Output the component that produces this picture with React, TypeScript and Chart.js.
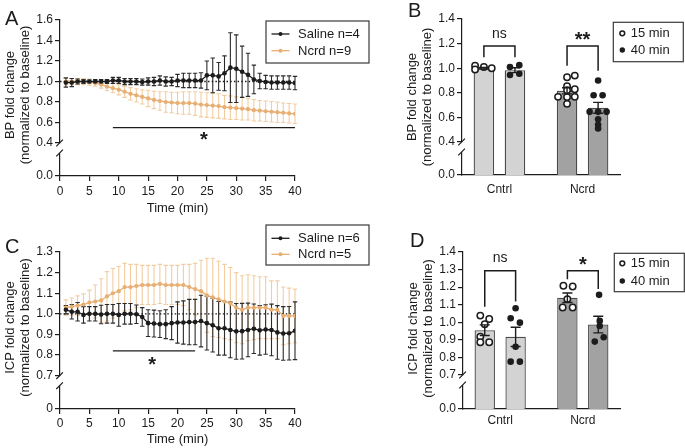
import React, { useEffect, useRef } from 'react';
import { Chart, registerables } from 'chart.js';

Chart.register(...registerables);

const FONT = '"Liberation Sans", Arial, Helvetica, sans-serif';
const INK = '#1c1c1c';
const ORANGE = '#E8AE72';
const ORANGE_ERR = '#F2CDA2';
const BLACK_ERR = '#2b2b2b';
const BAR_LIGHT = '#d3d3d3';
const BAR_DARK = '#a2a2a2';
const BAR_EDGE = '#4a4a4a';

Chart.defaults.font.family = FONT;
Chart.defaults.color = INK;

// ---------------- shared ----------------
const timeMin = [1, 2, 3, 4, 5, 6, 7, 8, 9, 10, 11, 12, 13, 14, 15, 16, 17, 18, 19, 20,
  21, 22, 23, 24, 25, 26, 27, 28, 29, 30, 31, 32, 33, 34, 35, 36, 37, 38, 39, 40];
const timeTicks = [0, 5, 10, 15, 20, 25, 30, 35, 40];
const refSpan = [0, 40];
const refLevel = 1.0;

// ---------------- panel A (BP time course) ----------------
const bpLegend = ['Saline n=4', 'Ncrd n=9'];
const bpSaline = [0.99, 0.99, 1.0, 1.0, 1.0, 1.0, 1.0, 1.0, 1.01, 1.01, 1.0, 1.0, 1.0, 0.995, 1.0, 1.0, 1.01, 1.0, 1.0, 1.01,
  1.01, 1.01, 1.01, 1.01, 1.06, 1.06, 1.05, 1.08, 1.135, 1.125, 1.095, 1.065, 1.02, 1.005, 0.995, 0.99, 0.99, 0.99, 0.99, 0.985];
const bpSalineSem = [0.045, 0.04, 0.025, 0.02, 0.015, 0.02, 0.02, 0.02, 0.03, 0.03, 0.03, 0.03, 0.03, 0.03, 0.035, 0.04, 0.045, 0.045, 0.04, 0.06,
  0.07, 0.07, 0.07, 0.075, 0.14, 0.17, 0.135, 0.17, 0.34, 0.33, 0.25, 0.21, 0.14, 0.075, 0.065, 0.065, 0.065, 0.065, 0.065, 0.065];
const bpNcrd = [1.0, 1.0, 1.0, 1.0, 0.995, 0.985, 0.97, 0.95, 0.935, 0.92, 0.9, 0.88, 0.865, 0.85, 0.835, 0.82, 0.81, 0.8, 0.795, 0.79,
  0.79, 0.79, 0.785, 0.775, 0.77, 0.765, 0.76, 0.75, 0.745, 0.74, 0.735, 0.73, 0.72, 0.715, 0.71, 0.705, 0.7, 0.695, 0.69, 0.685];
const bpNcrdSem = [0.03, 0.03, 0.03, 0.03, 0.03, 0.03, 0.035, 0.04, 0.045, 0.05, 0.055, 0.06, 0.065, 0.07, 0.08, 0.085, 0.09, 0.1, 0.1, 0.105,
  0.11, 0.11, 0.115, 0.12, 0.12, 0.12, 0.12, 0.115, 0.115, 0.11, 0.11, 0.105, 0.105, 0.1, 0.1, 0.1, 0.1, 0.095, 0.095, 0.095];
const bpLineTicks = [0.4, 0.6, 0.8, 1.0, 1.2, 1.4, 1.6];
const bpSigSpan = [9, 40];
const bpSigLevel = 0.55;
const bpStar = [24.5, 0.478];

// ---------------- panel C (ICP time course) ----------------
const icpLegend = ['Saline n=6', 'Ncrd n=5'];
const icpSaline = [1.02, 1.01, 1.01, 0.995, 1.0, 1.0, 0.997, 1.0, 1.0, 0.995, 1.0, 1.0, 0.998, 0.985, 0.955, 0.953, 0.95, 0.95, 0.955, 0.958,
  0.958, 0.96, 0.96, 0.965, 0.955, 0.945, 0.93, 0.93, 0.922, 0.915, 0.916, 0.922, 0.928, 0.92, 0.924, 0.922, 0.91, 0.905, 0.906, 0.918];
const icpSalineSem = [0.02, 0.035, 0.045, 0.04, 0.035, 0.035, 0.045, 0.045, 0.045, 0.055, 0.05, 0.05, 0.045, 0.045, 0.065, 0.065, 0.065, 0.07, 0.08, 0.1,
  0.105, 0.11, 0.11, 0.125, 0.13, 0.13, 0.13, 0.13, 0.135, 0.135, 0.135, 0.13, 0.12, 0.12, 0.12, 0.125, 0.13, 0.13, 0.13, 0.14];
const icpNcrd = [1.03, 1.035, 1.04, 1.045, 1.055, 1.06, 1.065, 1.085, 1.1, 1.11, 1.13, 1.13, 1.135, 1.14, 1.14, 1.14, 1.145, 1.14, 1.14, 1.14,
  1.14, 1.13, 1.12, 1.11, 1.09, 1.08, 1.07, 1.06, 1.05, 1.03, 1.02, 1.03, 1.03, 1.03, 1.03, 1.02, 1.02, 0.99, 0.99, 0.99];
const icpNcrdSem = [0.038, 0.042, 0.047, 0.052, 0.06, 0.08, 0.105, 0.12, 0.12, 0.12, 0.115, 0.11, 0.105, 0.095, 0.095, 0.095, 0.095, 0.095, 0.095, 0.095,
  0.1, 0.11, 0.125, 0.15, 0.18, 0.19, 0.185, 0.18, 0.175, 0.17, 0.165, 0.16, 0.155, 0.15, 0.15, 0.14, 0.14, 0.14, 0.135, 0.13];
const icpLineTicks = [0.7, 0.8, 0.9, 1.0, 1.1, 1.2, 1.3];
const icpSigSpan = [9, 23];
const icpSigLevel = 0.82;
const icpStar = [15.7, 0.776];

// ---------------- bar panels (B, D) ----------------
const barCategories = ['Cntrl', 'Ncrd'];
const barSlots = [0, 1];
const barLegend = ['15 min', '40 min'];

// B : BP
const bpMean15 = [1.0, 0.816];
const bpSem15 = [0.007, 0.025];
const bpMean40 = [0.984, 0.678];
const bpSem40 = [0.02, 0.044];
const bpPts15 = [[1.02, 0.99, 1.01, 1.0], [0.927, 0.94, 0.853, 0.821, 0.829, 0.767, 0.765, 0.767, 0.71]];
const bpJit15 = [[-0.106, -0.106, 0, 0.094], [0, 0.093, 0, 0, 0.093, -0.108, 0, 0.093, 0]];
const bpPts40 = [[1.01, 1.025, 0.945, 0.955], [0.9, 0.78, 0.78, 0.645, 0.645, 0.645, 0.585, 0.54, 0.51]];
const bpJit40 = [[-0.06, 0.052, -0.06, 0.052], [0, -0.054, 0.054, -0.102, 0, 0.102, 0, 0, 0]];
const bpBarTicks = [0.4, 0.6, 0.8, 1.0, 1.2, 1.4];
const bpBracketTop = [1.18, 1.18];
const bpLeg15 = [1.09, 1.02];
const bpLeg40 = [1.09, 0.98];
const bpSigText = ['ns', '**'];
const bpSigTextY = [1.274, 1.266];

// D : ICP
const icpMean15 = [0.955, 1.14];
const icpSem15 = [0.03, 0.027];
const icpMean40 = [0.917, 0.987];
const icpSem40 = [0.055, 0.047];
const icpPts15 = [[1.038, 1.019, 0.989, 0.918, 0.886, 0.886], [1.208, 1.204, 1.132, 1.084, 1.084]];
const icpJit15 = [[-0.054, 0.054, 0, -0.054, -0.054, 0.054], [-0.048, 0.064, 0, -0.057, 0.064]];
const icpPts40 = [[1.08, 1.023, 0.998, 0.861, 0.776, 0.776], [1.156, 1.008, 0.979, 0.89, 0.915]];
const icpJit40 = [[0, -0.06, 0.052, 0, -0.06, 0.052], [0.01, 0.018, 0.018, -0.042, 0.066]];
const icpBarTicks = [0.7, 0.8, 0.9, 1.0, 1.1, 1.2, 1.3, 1.4];
const icpBracketTop = [1.293, 1.293];
const icpLeg15 = [1.088, 1.245];
const icpLeg40 = [1.118, 1.19];
const icpSigText = ['ns', '*'];
const icpSigTextY = [1.362, 1.355];

const CAT_PCT = 0.747;
const BAR_PCT = 0.661;

// ---------------- helpers ----------------
const toXY = (xs: number[], ys: number[]) => xs.map((x, i) => ({ x, y: ys[i] }));

type ErrSet = { xs: number[]; ys: number[]; errs: number[]; color: string; cap: number; width: number };

function errorBarsPlugin(sets: ErrSet[], after: boolean) {
  const draw = (chart: any) => {
    const ctx = chart.ctx as CanvasRenderingContext2D;
    const xs = chart.scales.x;
    const ys = chart.scales.y;
    sets.forEach((s) => {
      ctx.save();
      ctx.strokeStyle = s.color;
      ctx.lineWidth = s.width;
      ctx.beginPath();
      s.xs.forEach((x, i) => {
        const px = xs.getPixelForValue(x);
        const top = ys.getPixelForValue(s.ys[i] + s.errs[i]);
        const bot = ys.getPixelForValue(s.ys[i] - s.errs[i]);
        ctx.moveTo(px, top);
        ctx.lineTo(px, bot);
        ctx.moveTo(px - s.cap, top);
        ctx.lineTo(px + s.cap, top);
        ctx.moveTo(px - s.cap, bot);
        ctx.lineTo(px + s.cap, bot);
      });
      ctx.stroke();
      ctx.restore();
    });
  };
  return {
    id: 'errorBars',
    beforeDatasetsDraw(chart: any) { if (!after) draw(chart); },
    afterDatasetsDraw(chart: any) { if (after) draw(chart); },
  };
}

const clipBarsPlugin = {
  id: 'clipBars',
  beforeDatasetDraw(chart: any, args: any) {
    if (args.meta.type !== 'bar') return;
    const a = chart.chartArea;
    const ctx = chart.ctx;
    ctx.save();
    ctx.beginPath();
    ctx.rect(a.left, a.top, a.right - a.left, a.bottom - a.top);
    ctx.clip();
  },
  afterDatasetDraw(chart: any, args: any) {
    if (args.meta.type !== 'bar') return;
    chart.ctx.restore();
  },
};

type Decor = {
  letter: string; letterX: number; letterY: number;
  yTitle: string[]; titleDy: number;
  legendBox: number[]; legendRows: number[]; legendSymX: number; legendTextX: number;
  legendItems: { ds: number; sym: string }[];
  brackets: { x1: number; x2: number; top: number; leg1: number; leg2: number }[];
  texts: { x: number; y: number; text: string; size: number; bold: boolean }[];
};

function decorPlugin(d: Decor) {
  return {
    id: 'decor',
    afterDraw(chart: any) {
      const ctx = chart.ctx as CanvasRenderingContext2D;
      const area = chart.chartArea;
      const xs = chart.scales.x;
      const ys = chart.scales.y;
      const y0 = chart.scales.y0;
      ctx.save();
      // axis break
      const ax = ys._borderValue !== undefined ? ys._borderValue : area.left;
      const yb = ys.bottom;
      const GAP = 10;
      const S = 3.3;
      ctx.strokeStyle = INK;
      ctx.lineWidth = 1.2;
      ctx.beginPath();
      ctx.moveTo(ax - S, yb + S);
      ctx.lineTo(ax + S, yb - S);
      ctx.moveTo(ax - S, yb + GAP + S);
      ctx.lineTo(ax + S, yb + GAP - S);
      ctx.moveTo(ax, yb + GAP);
      ctx.lineTo(ax, y0.bottom + 0.6);
      ctx.stroke();

      // y title
      ctx.fillStyle = INK;
      ctx.font = `13px ${FONT}`;
      ctx.textAlign = 'center';
      ctx.textBaseline = 'middle';
      const yc = (area.top + area.bottom) / 2 + d.titleDy;
      d.yTitle.forEach((t, i) => {
        ctx.save();
        ctx.translate(area.left - 50 + i * 15, yc);
        ctx.rotate(-Math.PI / 2);
        ctx.fillText(t, 0, 0);
        ctx.restore();
      });

      // legend
      const [bx, by, bw, bh] = d.legendBox;
      ctx.strokeStyle = '#3a3a3a';
      ctx.lineWidth = 1.2;
      ctx.strokeRect(bx, by, bw, bh);
      d.legendItems.forEach((it, i) => {
        const ds = chart.data.datasets[it.ds];
        const cy = d.legendRows[i];
        const sx = d.legendSymX;
        if (it.sym === 'line') {
          ctx.strokeStyle = ds.borderColor;
          ctx.fillStyle = ds.borderColor;
          ctx.lineWidth = 1.3;
          ctx.beginPath();
          ctx.moveTo(sx - 9, cy);
          ctx.lineTo(sx + 9, cy);
          ctx.stroke();
          ctx.beginPath();
          ctx.arc(sx, cy, 2, 0, Math.PI * 2);
          ctx.fill();
        } else if (it.sym === 'open') {
          ctx.strokeStyle = INK;
          ctx.fillStyle = '#fff';
          ctx.lineWidth = 1.5;
          ctx.beginPath();
          ctx.arc(sx, cy, 2.4, 0, Math.PI * 2);
          ctx.fill();
          ctx.stroke();
        } else {
          ctx.fillStyle = INK;
          ctx.beginPath();
          ctx.arc(sx, cy, 2.7, 0, Math.PI * 2);
          ctx.fill();
        }
        ctx.fillStyle = INK;
        ctx.font = `13px ${FONT}`;
        ctx.textAlign = 'left';
        ctx.textBaseline = 'middle';
        ctx.fillText(ds.label, d.legendTextX, cy + 0.5);
      });

      // brackets
      ctx.strokeStyle = INK;
      ctx.lineWidth = 1.5;
      d.brackets.forEach((b) => {
        const x1 = xs.getPixelForValue(b.x1);
        const x2 = xs.getPixelForValue(b.x2);
        const yt = ys.getPixelForValue(b.top);
        ctx.beginPath();
        ctx.moveTo(x1, ys.getPixelForValue(b.leg1));
        ctx.lineTo(x1, yt);
        ctx.lineTo(x2, yt);
        ctx.lineTo(x2, ys.getPixelForValue(b.leg2));
        ctx.stroke();
      });

      // significance texts
      ctx.fillStyle = INK;
      d.texts.forEach((t) => {
        ctx.font = `${t.bold ? 'bold ' : ''}${t.size}px ${FONT}`;
        ctx.textAlign = 'center';
        ctx.textBaseline = 'alphabetic';
        const rise = /^\*+$/.test(t.text) ? 0.55 : 0.26;
        ctx.fillText(t.text, xs.getPixelForValue(t.x), ys.getPixelForValue(t.y) + rise * t.size);
      });

      // panel letter
      ctx.font = `20px ${FONT}`;
      ctx.textAlign = 'left';
      ctx.textBaseline = 'alphabetic';
      ctx.fillText(d.letter, d.letterX, d.letterY);
      ctx.restore();
    },
  };
}

function yScales(o: { ticks: number[]; zeroLabel: string; weights: number[]; width: number }) {
  const tickFont = { size: 12, family: FONT, weight: 'normal' };
  return {
    y0: {
      type: 'linear', axis: 'y', position: 'left', stack: 'v', stackWeight: o.weights[1], weight: 0,
      min: 0, max: 1,
      afterBuildTicks: (s: any) => { s.ticks = [{ value: 0 }]; },
      ticks: { color: INK, font: tickFont, padding: 2, autoSkip: false, callback: () => o.zeroLabel },
      grid: { drawOnChartArea: false, drawTicks: true, tickLength: 5, color: INK, lineWidth: 1.2 },
      border: { display: false },
      afterFit: (s: any) => { s.width = o.width; },
    },
    y: {
      type: 'linear', axis: 'y', position: 'left', stack: 'v', stackWeight: o.weights[0], weight: 1,
      min: o.ticks[0], max: o.ticks[o.ticks.length - 1],
      afterBuildTicks: (s: any) => { s.ticks = o.ticks.map((v) => ({ value: v })); },
      ticks: { color: INK, font: tickFont, padding: 2, autoSkip: false, callback: (v: any) => Number(v).toFixed(1) },
      grid: { drawOnChartArea: false, drawTicks: true, tickLength: 5, color: INK, lineWidth: 1.2 },
      border: { color: INK, width: 1.2 },
      afterFit: (s: any) => { s.width = o.width; },
    },
  };
}

function lineConfig(o: any): any {
  return {
    type: 'line',
    data: {
      datasets: [
        {
          label: o.labels[0], data: toXY(timeMin, o.saline), xAxisID: 'x', yAxisID: 'y',
          borderColor: INK, backgroundColor: INK, pointBackgroundColor: INK, borderWidth: 1.3,
          pointRadius: 2.3, pointBorderWidth: 0, tension: 0,
        },
        {
          label: o.labels[1], data: toXY(timeMin, o.ncrd), xAxisID: 'x', yAxisID: 'y',
          borderColor: ORANGE, backgroundColor: ORANGE, pointBackgroundColor: ORANGE, borderWidth: 1.3,
          pointRadius: 2.1, pointBorderWidth: 0, tension: 0,
        },
        {
          label: 'sig', data: toXY(o.sigSpan, [o.sigLevel, o.sigLevel]), xAxisID: 'x', yAxisID: 'y',
          borderColor: INK, borderWidth: 1.3, pointRadius: 0,
        },
        {
          label: 'baseline', data: toXY(refSpan, [refLevel, refLevel]), xAxisID: 'x', yAxisID: 'y',
          borderColor: INK, borderWidth: 1.3, borderDash: [1.5, 2.2], pointRadius: 0,
        },
      ],
    },
    options: {
      responsive: false, animation: false, devicePixelRatio: 1, events: [],
      layout: { padding: o.pad },
      plugins: { legend: { display: false }, tooltip: { enabled: false } },
      scales: {
        x: {
          type: 'linear', axis: 'x', position: 'bottom', min: 0, max: 40,
          afterBuildTicks: (s: any) => { s.ticks = timeTicks.map((v) => ({ value: v })); },
          ticks: { color: INK, font: { size: 12, family: FONT, weight: 'normal' }, padding: o.tickPad, maxRotation: 0, autoSkip: false, callback: (v: any) => String(v) },
          grid: { drawOnChartArea: false, drawTicks: true, tickLength: 5, color: INK, lineWidth: 1.2 },
          border: { color: INK, width: 1.2 },
          title: { display: true, text: 'Time (min)', color: INK, font: { size: 13, family: FONT, weight: 'normal' }, padding: { top: 0, bottom: o.titlePad } },
          afterFit: (s: any) => { s.height = o.xHeight; },
        },
        ...yScales({ ticks: o.yTicks, zeroLabel: o.zeroLabel, weights: o.weights, width: o.yWidth }),
      },
    },
    plugins: [
      errorBarsPlugin([
        { xs: timeMin, ys: o.ncrd, errs: o.ncrdSem, color: ORANGE_ERR, cap: 2.2, width: 1.1 },
        { xs: timeMin, ys: o.saline, errs: o.salineSem, color: BLACK_ERR, cap: 2.2, width: 1.1 },
      ], false),
      decorPlugin(o.decor),
    ],
  };
}

function barConfig(o: any): any {
  const off = CAT_PCT / 4;
  const pts = (vals: number[][], jit: number[][], sign: number) => {
    const out: { x: number; y: number }[] = [];
    vals.forEach((arr, i) => arr.forEach((v, j) => out.push({ x: barSlots[i] + sign * off + jit[i][j], y: v })));
    return out;
  };
  const barDs = (label: string, means: number[]) => ({
    type: 'bar', label, data: toXY(barSlots, means), xAxisID: 'x', yAxisID: 'y',
    backgroundColor: [BAR_LIGHT, BAR_DARK], borderColor: BAR_EDGE, borderWidth: 1.3,
    base: 0, clip: false, categoryPercentage: CAT_PCT, barPercentage: BAR_PCT, order: 2,
  });
  return {
    type: 'bar',
    data: {
      datasets: [
        barDs(barLegend[0], o.mean15),
        barDs(barLegend[1], o.mean40),
        {
          type: 'scatter', label: barLegend[0], data: pts(o.pts15, o.jit15, -1), xAxisID: 'x', yAxisID: 'y',
          pointRadius: 3.2, pointBackgroundColor: '#ffffff', pointBorderColor: INK, pointBorderWidth: 1.5, order: 1,
        },
        {
          type: 'scatter', label: barLegend[1], data: pts(o.pts40, o.jit40, 1), xAxisID: 'x', yAxisID: 'y',
          pointRadius: 3.3, pointBackgroundColor: INK, pointBorderColor: INK, pointBorderWidth: 0, order: 1,
        },
      ],
    },
    options: {
      responsive: false, animation: false, devicePixelRatio: 1, events: [],
      layout: { padding: o.pad },
      plugins: { legend: { display: false }, tooltip: { enabled: false } },
      scales: {
        x: {
          type: 'linear', axis: 'x', position: 'bottom', min: -0.45, max: 1.45, offset: false,
          afterBuildTicks: (s: any) => { s.ticks = barSlots.map((v) => ({ value: v })); },
          ticks: { color: INK, font: { size: 12, family: FONT, weight: 'normal' }, padding: o.tickPad, maxRotation: 0, autoSkip: false,
            callback: (v: any) => barCategories[barSlots.indexOf(Number(v))] },
          grid: { drawOnChartArea: false, drawTicks: false, offset: false },
          border: { color: INK, width: 1.2 },
          afterFit: (s: any) => { s.height = o.xHeight; },
        },
        ...yScales({ ticks: o.yTicks, zeroLabel: o.zeroLabel, weights: o.weights, width: o.yWidth }),
      },
    },
    plugins: [
      clipBarsPlugin,
      errorBarsPlugin([
        { xs: barSlots.map((s) => s - off), ys: o.mean15, errs: o.sem15, color: INK, cap: 5, width: 1.4 },
        { xs: barSlots.map((s) => s + off), ys: o.mean40, errs: o.sem40, color: INK, cap: 5, width: 1.4 },
      ], true),
      decorPlugin({
        ...o.decor,
        brackets: barSlots.map((s, i) => ({ x1: s - off, x2: s + off, top: o.bracketTop[i], leg1: o.leg15[i], leg2: o.leg40[i] })),
        texts: barSlots.map((s, i) => ({ x: s, y: o.sigTextY[i], text: o.sigText[i], size: /\*/.test(o.sigText[i]) ? 20 : 14, bold: /\*/.test(o.sigText[i]) })),
      }),
    ],
  };
}

const yTitleBP = ['BP fold change', '(normalized to baseline)'];
const yTitleICP = ['ICP fold change', '(normalized to baseline)'];

const configA = () => lineConfig({
  labels: bpLegend, saline: bpSaline, salineSem: bpSalineSem, ncrd: bpNcrd, ncrdSem: bpNcrdSem,
  sigSpan: bpSigSpan, sigLevel: bpSigLevel, yTicks: bpLineTicks, zeroLabel: '0.0',
  weights: [123, 33], yWidth: 60, pad: { top: 20, right: 105, bottom: 0, left: 0 },
  xHeight: 46, tickPad: 3, titlePad: 6,
  decor: {
    letter: 'A', letterX: 5, letterY: 25, yTitle: yTitleBP, titleDy: -3,
    legendBox: [266, 21, 103, 42], legendRows: [34, 50.7], legendSymX: 280.5, legendTextX: 298,
    legendItems: [{ ds: 0, sym: 'line' }, { ds: 1, sym: 'line' }],
    brackets: [], texts: [{ x: bpStar[0], y: bpStar[1], text: '*', size: 20, bold: true }],
  },
});

const configC = () => lineConfig({
  labels: icpLegend, saline: icpSaline, salineSem: icpSalineSem, ncrd: icpNcrd, ncrdSem: icpNcrdSem,
  sigSpan: icpSigSpan, sigLevel: icpSigLevel, yTicks: icpLineTicks, zeroLabel: '0',
  weights: [123.7, 33.3], yWidth: 60, pad: { top: 30, right: 105, bottom: 0, left: 0 },
  xHeight: 39, tickPad: 2.5, titlePad: 0.5,
  decor: {
    letter: 'C', letterX: 5, letterY: 31, yTitle: yTitleICP, titleDy: -3,
    legendBox: [266, 3, 103, 40], legendRows: [16.3, 32.3], legendSymX: 280.5, legendTextX: 298,
    legendItems: [{ ds: 0, sym: 'line' }, { ds: 1, sym: 'line' }],
    brackets: [], texts: [{ x: icpStar[0], y: icpStar[1], text: '*', size: 20, bold: true }],
  },
});

const configB = () => barConfig({
  mean15: bpMean15, sem15: bpSem15, mean40: bpMean40, sem40: bpSem40,
  pts15: bpPts15, jit15: bpJit15, pts40: bpPts40, jit40: bpJit40,
  yTicks: bpBarTicks, zeroLabel: '0.0', weights: [123, 33], yWidth: 62,
  pad: { top: 19, right: 65, bottom: 0, left: 0 }, xHeight: 47, tickPad: 7.5,
  bracketTop: bpBracketTop, leg15: bpLeg15, leg40: bpLeg40, sigText: bpSigText, sigTextY: bpSigTextY,
  decor: {
    letter: 'B', letterX: 8, letterY: 17, yTitle: yTitleBP, titleDy: 0,
    legendBox: [213.3, 22.3, 70, 39.4], legendRows: [33.3, 50], legendSymX: 222.3, legendTextX: 230.7,
    legendItems: [{ ds: 2, sym: 'open' }, { ds: 3, sym: 'filled' }],
  },
});

const configD = () => barConfig({
  mean15: icpMean15, sem15: icpSem15, mean40: icpMean40, sem40: icpSem40,
  pts15: icpPts15, jit15: icpJit15, pts40: icpPts40, jit40: icpJit40,
  yTicks: icpBarTicks, zeroLabel: '0.0', weights: [123, 34], yWidth: 63,
  pad: { top: 30, right: 65, bottom: 0, left: 0 }, xHeight: 39, tickPad: 4,
  bracketTop: icpBracketTop, leg15: icpLeg15, leg40: icpLeg40, sigText: icpSigText, sigTextY: icpSigTextY,
  decor: {
    letter: 'D', letterX: 10, letterY: 25, yTitle: yTitleICP, titleDy: -2,
    legendBox: [214.3, 31.3, 70, 38.4], legendRows: [41.3, 59], legendSymX: 222.3, legendTextX: 230.7,
    legendItems: [{ ds: 2, sym: 'open' }, { ds: 3, sym: 'filled' }],
  },
});

function Panel({ make, left, top, w, h }: { make: () => any; left: number; top: number; w: number; h: number }) {
  const ref = useRef<HTMLCanvasElement>(null);
  useEffect(() => {
    const chart = new Chart(ref.current as HTMLCanvasElement, make());
    return () => chart.destroy();
  }, []);
  return (
    <canvas
      ref={ref}
      width={w}
      height={h}
      style={{ position: 'absolute', left, top, width: w, height: h, display: 'block' }}
    />
  );
}

export default function App() {
  return (
    <div style={{ position: 'absolute', left: 0, top: 0, width: 685, height: 448, background: '#ffffff', overflow: 'hidden' }}>
      <Panel make={configA} left={0} top={0} w={400} h={222} />
      <Panel make={configB} left={400} top={0} w={285} h={222} />
      <Panel make={configC} left={0} top={222} w={400} h={226} />
      <Panel make={configD} left={400} top={222} w={285} h={226} />
    </div>
  );
}
